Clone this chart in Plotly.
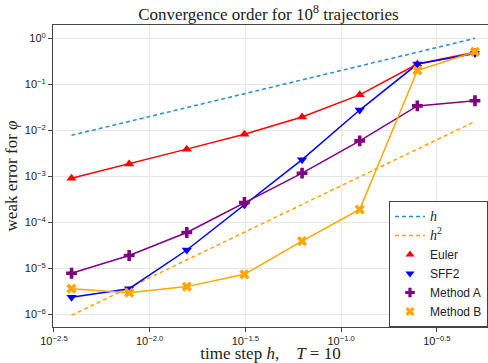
import plotly.graph_objects as go

# time steps h (T = 10)
h = [0.00390625, 0.0078125, 0.015625, 0.03125, 0.0625, 0.125, 0.25, 0.5]

# reference slopes
ref_h = [0.0078, 0.0156, 0.031, 0.0625, 0.125, 0.25, 0.5, 1.0]
ref_h2 = [9.5e-7, 3.8e-6, 1.53e-5, 6.1e-5, 2.44e-4, 9.77e-4, 3.9e-3, 0.0156]

euler = [9.1e-4, 1.85e-3, 3.9e-3, 8.2e-3, 0.0195, 0.059, 0.276, 0.50]
sff2 = [2.34e-6, 3.6e-6, 2.5e-5, 2.4e-4, 2.3e-3, 0.0276, 0.276, 0.47]
method_a = [7.8e-6, 1.9e-5, 6.0e-5, 2.7e-4, 1.17e-3, 5.9e-3, 0.034, 0.044]
method_b = [3.6e-6, 2.95e-6, 4.0e-6, 7.4e-6, 3.9e-5, 1.9e-4, 0.20, 0.51]

x_tickvals = [10**-2.5, 10**-2.0, 10**-1.5, 10**-1.0, 10**-0.5]
x_ticktext = ["10<sup>−2.5</sup>", "10<sup>−2.0</sup>", "10<sup>−1.5</sup>",
              "10<sup>−1.0</sup>", "10<sup>−0.5</sup>"]
y_tickvals = [1e-6, 1e-5, 1e-4, 1e-3, 1e-2, 1e-1, 1]
y_ticktext = ["10<sup>−6</sup>", "10<sup>−5</sup>", "10<sup>−4</sup>", "10<sup>−3</sup>",
              "10<sup>−2</sup>", "10<sup>−1</sup>", "10<sup>0</sup>"]

SERIF = "Liberation Serif"
SANS = "Liberation Sans"

fig = go.Figure()
fig.add_trace(go.Scatter(x=h, y=ref_h, mode="lines",
                         line=dict(color="#2a8cc8", width=1.5, dash="4px,3px"),
                         name="<span style='font-family:Liberation Serif;font-size:14px'><i>h</i></span>"))
fig.add_trace(go.Scatter(x=h, y=ref_h2, mode="lines",
                         line=dict(color="#FFA500", width=1.5, dash="4px,3px"),
                         name="<span style='font-family:Liberation Serif;font-size:14px'><i>h</i><sup>2</sup></span>"))

series = [
    ("Euler", euler, "#FF0000", "triangle-up"),
    ("SFF2", sff2, "#0000FF", "triangle-down"),
    ("Method A", method_a, "#800080", "cross"),
    ("Method B", method_b, "#FFA500", "x"),
]
for name, ys, col, sym in series:
    fig.add_trace(go.Scatter(x=h, y=ys, mode="lines+markers", showlegend=False,
                             line=dict(color=col, width=1.5),
                             marker=dict(color=col, symbol=sym, size=9, line=dict(width=0))))
for name, ys, col, sym in series:
    fig.add_trace(go.Scatter(x=[None], y=[None], mode="markers", name=name,
                             marker=dict(color=col, symbol=sym, size=8, line=dict(width=0))))

fig.update_layout(
    width=488, height=363,
    margin=dict(l=53, r=0, t=25, b=36),
    paper_bgcolor="white", plot_bgcolor="white",
    title=dict(text="Convergence order for 10<sup>8</sup> trajectories",
               x=0.55, xanchor="center", y=0.962, yanchor="middle",
               font=dict(family=SERIF, size=17, color="#222")),
    font=dict(family=SANS, size=11, color="#222"),
    legend=dict(x=1, xanchor="right", y=0, yanchor="bottom",
                bgcolor="white", bordercolor="#444", borderwidth=1,
                font=dict(family=SANS, size=12, color="#222"),
                itemwidth=30, tracegroupgap=0),
)
fig.update_xaxes(type="log", range=[-2.505, -0.233],
                 tickvals=x_tickvals, ticktext=x_ticktext,
                 ticks="outside", ticklen=4, tickcolor="#444",
                 showgrid=True, gridcolor="#e6e6e6", gridwidth=1,
                 showline=True, linecolor="#444", linewidth=1, mirror=True,
                 zeroline=False, automargin=False,
                 title=dict(text="time step <i>h</i>,    <i>T</i> = 10", standoff=4,
                            font=dict(family=SERIF, size=17, color="#222")))
fig.update_yaxes(type="log", range=[-6.276, 0.29],
                 tickvals=y_tickvals, ticktext=y_ticktext,
                 ticks="outside", ticklen=4, tickcolor="#444",
                 showgrid=True, gridcolor="#e6e6e6", gridwidth=1,
                 showline=True, linecolor="#444", linewidth=1, mirror=True,
                 zeroline=False, automargin=False,
                 title=dict(text="weak error for <i>φ</i>", standoff=2,
                            font=dict(family=SERIF, size=17, color="#222")))

fig.write_html("out.html", config={"displayModeBar": False},
               post_script="document.body.style.margin='0';")
